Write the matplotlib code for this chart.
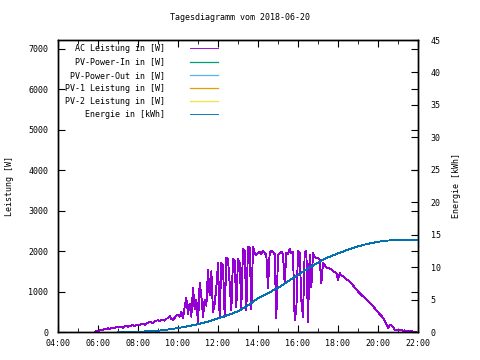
import numpy as np
import matplotlib
matplotlib.use("Agg")
import matplotlib.pyplot as plt
from matplotlib.ticker import MultipleLocator, FuncFormatter

plt.rcParams['font.family'] = ['DejaVu Sans Mono']
plt.rcParams['font.size'] = 6

title = 'Tagesdiagramm vom 2018-06-20'

# AC Leistung [W], 5-min samples starting 05:50
ac_start = 5 + 50 / 60
ac_power = [
    0, 20,
    30, 40, 50, 60, 70, 80, 90, 80, 100, 110, 90, 120,                      # 06
    110, 130, 120, 100, 140, 150, 130, 150, 160, 170, 150, 180,             # 07
    180, 170, 190, 200, 180, 210, 230, 250, 240, 220, 260, 280,             # 08
    290, 270, 310, 300, 280, 330, 340, 390, 320, 300, 350, 400,             # 09
    420, 380, 500, 340, 620, 840, 450, 700, 380, 1090, 560, 800,            # 10
    200, 1210, 900, 370, 800, 650, 1530, 900, 1500, 490, 700, 1100,         # 11
    1700, 350, 1700, 1650, 380, 1830, 1800, 1200, 540, 1800, 1750, 620,     # 12
    1800, 1700, 620, 2050, 2000, 540, 2100, 2080, 560, 2100, 1950, 1900,    # 13
    1950, 1980, 1920, 2000, 1950, 1900, 1090, 1950, 2000, 1980, 1920, 350,  # 14
    1900, 1950, 1980, 1920, 1200, 1950, 1930, 2050, 1950, 1980, 300, 540,   # 15
    2000, 1950, 790, 370, 1950, 2000, 250, 1900, 1110, 1950, 1850, 1830,    # 16
    1830, 1780, 1200, 1700, 1650, 1600, 1580, 1560, 1540, 1500, 1480, 1460, # 17
    1280, 1450, 1400, 1380, 1350, 1300, 1280, 1250, 1200, 1150, 1100, 1060, # 18
    1000, 960, 920, 880, 840, 800, 760, 720, 680, 640, 590, 540,            # 19
    500, 440, 400, 350, 280, 200, 100, 160, 170, 120, 60, 50,               # 20
    60, 40, 50, 30, 40, 20, 30, 10, 20, 10, 0, 0,                           # 21
]

# Energie [kWh], half-hourly from 07:00
energy_start = 7.0
energy = [0, 0.02, 0.05, 0.1, 0.2, 0.38, 0.6, 0.9, 1.2, 1.6, 2.1, 2.6, 3.2,
          4.1, 5.2, 6.0, 6.8, 7.8, 8.8, 9.8, 10.7, 11.5, 12.1, 12.7, 13.2,
          13.6, 13.9, 14.1, 14.15, 14.15, 14.15]

labels = ['AC Leistung in [W]', 'PV-Power-In in [W]', 'PV-Power-Out in [W]',
          'PV-1 Leistung in [W]', 'PV-2 Leistung in [W]', 'Energie in [kWh]']
colors = ['#9400d3', '#009e73', '#56b4e9', '#e69f00', '#f0e442', '#0072b2']

t_ac = ac_start + np.arange(len(ac_power)) * 5 / 60
t_en = energy_start + np.arange(len(energy)) * 0.5

fig = plt.figure(figsize=(4.8, 3.6), dpi=100)
ax = fig.add_axes([58 / 480, 28 / 360, 360 / 480, 292 / 360])
ax2 = ax.twinx()

width = max(len(s) for s in labels)
handles = []
h, = ax.plot(t_ac, ac_power, color=colors[0], lw=0.65, antialiased=False)
handles.append(h)
for c in colors[1:5]:
    h, = ax.plot([], [], color=c, lw=0.9)
    handles.append(h)
h, = ax2.plot(t_en, energy, color=colors[5], lw=0.65, antialiased=False)
handles.append(h)

ax.set_xlim(4, 22)
ax.set_ylim(0, 7210)
ax2.set_ylim(0, 45)

ax.xaxis.set_major_locator(MultipleLocator(2))
ax.xaxis.set_minor_locator(MultipleLocator(1))
ax.xaxis.set_major_formatter(FuncFormatter(lambda v, p: '%02d:00' % int(round(v))))
ax.yaxis.set_major_locator(MultipleLocator(1000))
ax2.yaxis.set_major_locator(MultipleLocator(5))

ax.tick_params(axis='both', which='both', direction='in', top=True, right=True)
ax.tick_params(axis='y', which='major', length=5, pad=7)
ax.tick_params(axis='x', which='major', length=5, pad=5)
ax.tick_params(axis='x', which='minor', length=3)
ax2.tick_params(axis='y', direction='in', length=5, pad=9)

for a in (ax, ax2):
    for s in a.spines.values():
        s.set_linewidth(1.0)

ax.set_ylabel('Leistung [W]', labelpad=10)
ax2.set_ylabel('Energie [kWh]', labelpad=8)
fig.text(0.5, 1 - 18 / 360, title, ha='center', va='center')

padded = [s.rjust(width) for s in labels]
leg = ax2.legend(handles, padded, loc='upper left', bbox_to_anchor=(0.02, 0.985),
                 frameon=False, markerfirst=False, handlelength=3.4,
                 handletextpad=2.95, labelspacing=0.5, borderpad=0, borderaxespad=0)

fig.savefig('out.png', dpi=100)
